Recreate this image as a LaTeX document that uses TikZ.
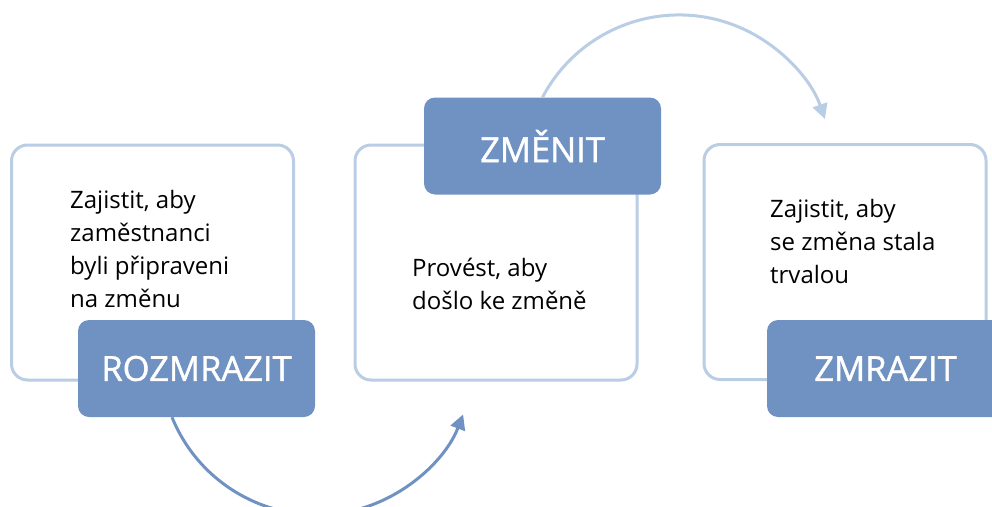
\documentclass[tikz,border=0pt]{standalone}
\usepackage{fontspec}
\setmainfont{Open Sans}
\newfontfamily\phasefont{Open Sans}[FakeBold=1.2]
\usetikzlibrary{arrows.meta}
\definecolor{boxline}{HTML}{B9CDE5}
\definecolor{phasefill}{HTML}{7092C2}
\begin{document}
\begin{tikzpicture}[
x=1pt, y=1pt,
box/.style={
draw=boxline,
line width=3pt,
rounded corners=16pt,
fill=white,
minimum width=282pt,
minimum height=235pt
},
phase/.style={
fill=phasefill,
rounded corners=11pt,
text=white,
minimum width=237pt,
minimum height=97pt,
font=\phasefont\fontsize{34.5}{40}\selectfont
},
desc/.style={
anchor=north west,
inner sep=0pt,
align=left,
font=\fontsize{24}{33}\selectfont
},
arrow/.style={line width=3pt, -{Triangle[length=15pt,width=15pt]}}
]
\useasboundingbox (0,0) rectangle (992,-506);
\clip (0,0) rectangle (992,-506);
\node[box] (pripravit) at (152.5,-262.5) {};
\node[box] (provest) at (496,-262.5) {};
\node[box] (udrzet) at (845,-262) {};
\node[desc] (pripravittext) at (70,-190)
{Zajistit, aby\\zaměstnanci\\byli připraveni\\na změnu};
\node[desc] (proveststext) at (412,-258)
{Provést, aby\\došlo ke změně};
\node[desc] (udrzettext) at (770,-199)
{Zajistit, aby\\se změna stala\\trvalou};
\node[phase] (rozmrazit) at (196.5,-368.5) {ROZMRAZIT};
\node[phase] (zmenit) at (542.5,-146) {ZMĚNIT};
\node[phase] (zmrazit) at (885.5,-368.5) {ZMRAZIT};
\draw[arrow, phasefill] ([xshift=-24.5pt]rozmrazit.south)
arc[start angle=202.1, end angle=339, radius=156.5];
\draw[arrow, boxline] (zmenit.north)
arc[start angle=152.2, end angle=19, radius=154.3];
\end{tikzpicture}
\end{document}
